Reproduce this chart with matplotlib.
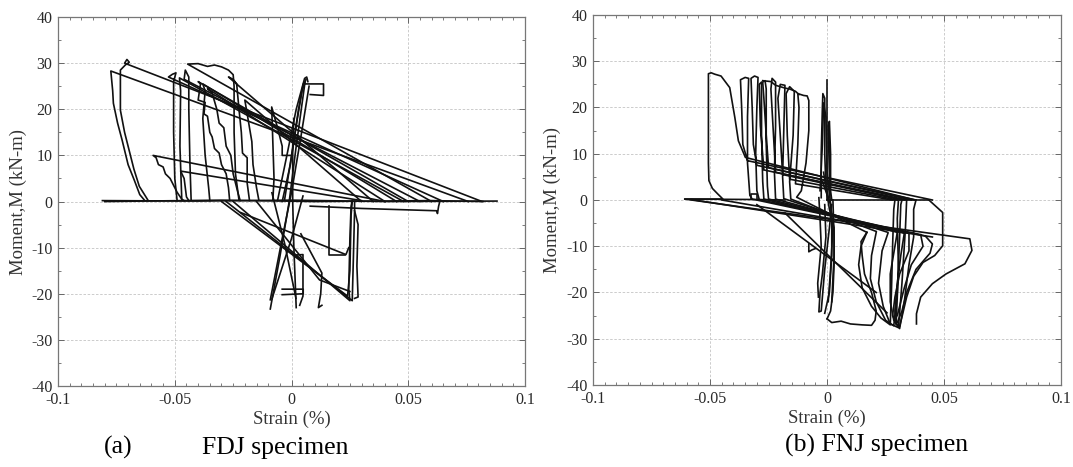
import matplotlib
matplotlib.use("Agg")
import matplotlib.pyplot as plt
from matplotlib.ticker import MultipleLocator

plt.rcParams['font.family'] = ['Liberation Serif', 'DejaVu Serif']
plt.rcParams['axes.unicode_minus'] = False

# ---- FDJ specimen: strain (%) vs moment (kN-m), one list of points per cycle ----
fdj_baseline = [(-0.081, 0.2), (-0.040, 0.1), (0.000, 0.3), (0.040, 0.0), (0.088, 0.1)]
fdj_baseline2 = [(-0.080, 0.0), (-0.030, 0.3), (0.010, 0.0), (0.060, 0.2), (0.082, 0.0)]
fdj_cycle1 = [(0.0757, 0.0), (-0.0774, 28.3), (-0.0766, 24.0), (-0.0763, 21.3), (-0.0745, 17.0),
              (-0.0726, 13.4), (-0.0700, 8.0), (-0.0674, 4.7), (-0.0650, 1.5), (-0.0630, 0.3)]
fdj_cycle2 = [(0.0816, 0.0), (-0.0715, 30.0), (-0.0705, 30.8), (-0.0695, 30.2), (-0.0712, 29.6),
              (-0.0733, 28.5), (-0.0733, 19.8), (-0.0715, 15.0), (-0.0696, 11.2), (-0.0675, 7.0),
              (-0.0652, 3.3), (-0.0615, 0.3)]
fdj_cycle3 = [(0.0650, 0.0), (-0.0527, 27.0), (-0.0510, 27.6), (-0.0495, 27.9), (-0.0505, 26.0),
              (-0.0505, 15.0), (-0.0500, 5.0), (-0.0490, 0.2)]
fdj_cycle4 = [(0.0600, 0.0), (-0.0445, 29.8), (-0.0400, 29.9), (-0.0360, 29.3), (-0.0330, 29.6),
              (-0.0300, 29.2), (-0.0270, 28.5), (-0.0250, 27.5), (-0.0246, 25.0), (-0.0246, 15.0),
              (-0.0240, 6.0), (-0.0225, 0.3)]
fdj_cycle5 = [(0.0550, 0.0), (-0.0460, 26.5), (-0.0455, 28.5), (-0.0440, 27.0), (-0.0440, 20.0),
              (-0.0435, 8.0), (-0.0430, 0.3)]
fdj_cycle6 = [(0.0500, 0.0), (-0.0400, 26.0), (-0.0390, 25.5), (-0.0400, 22.0), (-0.0370, 21.5),
              (-0.0375, 19.0), (-0.0360, 18.5), (-0.0350, 15.0), (-0.0340, 14.0), (-0.0330, 11.5),
              (-0.0310, 10.5), (-0.0300, 8.0), (-0.0280, 6.0), (-0.0270, 3.0), (-0.0265, 0.2)]
fdj_cycle7 = [(0.0450, 0.0), (-0.0380, 25.5), (-0.0370, 24.0), (-0.0380, 18.0), (-0.0370, 10.0),
              (-0.0355, 3.0), (-0.0350, 0.2)]
fdj_cycle8 = [(0.0400, 0.0), (-0.0360, 24.5), (-0.0340, 23.5), (-0.0320, 20.0), (-0.0310, 17.0),
              (-0.0290, 16.0), (-0.0280, 12.0), (-0.0260, 10.0), (-0.0250, 6.0), (-0.0230, 2.0),
              (-0.0220, 0.2)]
fdj_cycle9 = [(0.0350, 0.0), (-0.0270, 27.0), (-0.0250, 26.5), (-0.0235, 25.5), (-0.0225, 20.0),
              (-0.0215, 15.0), (-0.0210, 10.5), (-0.0190, 9.5), (-0.0190, 4.0), (-0.0180, 0.2)]
fdj_cycle10 = [(0.0300, 0.0), (-0.0200, 22.0), (-0.0170, 13.0), (-0.0165, 8.0), (-0.0150, 3.0),
               (-0.0140, 0.3)]
fdj_cycle11 = [(0.0400, 0.0), (-0.0593, 10.0), (-0.0580, 9.5), (-0.0570, 8.0), (-0.0550, 7.5),
               (-0.0540, 6.0), (-0.0520, 5.0), (-0.0505, 3.5), (-0.0490, 2.0), (-0.0470, 0.5),
               (-0.0460, 0.2)]
fdj_cycle12 = [(0.0300, 0.2), (-0.0475, 6.6), (-0.0460, 5.0), (-0.0450, 1.0), (-0.0440, 0.2)]
fdj_cycle13 = [(-0.0080, 0.3), (-0.0075, 5.0), (-0.0085, 20.5), (-0.0060, 16.0), (-0.0040, 12.0),
               (-0.0040, 10.0), (0.0000, 10.0)]
fdj_cycle14 = [(0.0480, 0.0), (-0.0480, 26.8), (-0.0475, 24.0), (-0.0478, 12.0), (-0.0470, 0.3)]
fdj_up1 = [(-0.0060, 0.2), (-0.0020, 10.0), (0.0020, 20.0), (0.0056, 26.7), (0.0065, 27.0),
           (0.0070, 26.0)]
fdj_up2 = [(-0.0030, 0.3), (0.0000, 10.0), (0.0030, 20.0), (0.0050, 25.5), (0.0137, 25.5),
           (0.0137, 23.0), (0.0080, 23.2)]
fdj_up3 = [(-0.0091, -21.3), (-0.0040, -8.0), (0.0000, 2.0), (0.0040, 14.0), (0.0075, 25.0)]
fdj_up4 = [(-0.0091, -23.3), (-0.0050, -12.0), (-0.0010, 0.0), (0.0020, 12.0), (0.0058, 26.0)]
fdj_up5 = [(0.0020, -23.0), (0.0010, -10.0), (0.0005, 0.0), (0.0005, 12.0), (0.0010, 18.0)]
fdj_up6 = [(-0.0040, 0.0), (-0.0005, 8.0), (0.0025, 18.0), (0.0045, 24.0), (0.0062, 26.5)]
fdj_down1 = [(0.0049, 1.2), (0.0000, -8.0), (-0.0084, -21.1)]
fdj_down2 = [(-0.0084, 1.9), (-0.0030, -9.0), (0.0019, -21.0)]
fdj_down3 = [(0.0016, -11.6), (0.0049, -11.5), (0.0049, -20.5), (0.0035, -22.5)]
fdj_box = [(-0.0040, -19.0), (0.0050, -19.0), (0.0050, -20.0), (-0.0040, -20.2)]
fdj_low1 = [(-0.0250, 0.0), (0.0250, -21.5), (0.0245, -19.0), (0.0250, -8.0), (0.0255, -1.0),
            (0.0260, 0.2)]
fdj_low2 = [(-0.0300, 0.0), (0.0240, -20.5), (0.0250, -15.0), (0.0255, -3.0), (0.0260, 0.0)]
fdj_low3 = [(-0.0280, 0.0), (0.0260, -21.5), (0.0265, -12.0), (0.0270, -2.0), (0.0270, 0.0)]
fdj_low4 = [(-0.0217, -2.4), (0.0233, -11.5), (0.0245, -10.0)]
fdj_low5 = [(0.0270, -2.0), (0.0285, -5.0), (0.0280, -14.0), (0.0285, -20.7), (0.0270, -21.0)]
fdj_low6 = [(0.0040, -7.0), (0.0130, -15.5), (0.0125, -20.0), (0.0115, -23.0), (0.0130, -22.5)]
fdj_low7 = [(0.0160, -1.0), (0.0160, -11.5), (0.0230, -11.5)]
fdj_low8 = [(0.0080, -1.0), (0.0300, -1.5), (0.0622, -2.0), (0.0625, -2.6), (0.0630, -1.0),
            (0.0635, 0.0)]
fdj_low9 = [(-0.0150, 0.0), (0.0120, -17.0), (0.0250, -19.5)]

# ---- FNJ specimen ----
fnj_base = [(-0.0608, 0.2), (-0.0300, 0.1), (-0.0180, 0.0)]
fnj_top0 = [(0.0000, 0.0), (0.0435, 0.0)]
fnj_loop0 = [(0.0376, 0.0), (-0.0349, 9.2), (-0.0379, 12.8), (-0.0394, 17.8), (-0.0416, 24.3),
             (-0.0453, 26.8), (-0.0480, 27.2), (-0.0495, 27.5), (-0.0507, 27.3), (-0.0507, 20.0),
             (-0.0507, 8.0), (-0.0505, 4.2), (-0.0490, 2.5), (-0.0467, 1.3), (-0.0445, 0.2),
             (-0.0608, 0.2), (0.0610, -8.4), (0.0619, -10.9), (0.0589, -13.8), (0.0508, -16.0),
             (0.0450, -18.1), (0.0400, -21.0), (0.0382, -24.6), (0.0382, -26.8)]
fnj_loop1 = [(0.0450, 0.0), (-0.0340, 8.5), (-0.0360, 12.0), (-0.0365, 20.0), (-0.0370, 26.0),
             (-0.0350, 26.5), (-0.0335, 26.3), (-0.0340, 18.0), (-0.0340, 8.0), (-0.0330, 1.0),
             (-0.0320, 0.2), (0.0420, -7.8)]
fnj_loop2 = [(0.0380, 0.0), (-0.0300, 7.5), (-0.0315, 12.0), (-0.0320, 20.0), (-0.0325, 26.3),
             (-0.0310, 26.8), (-0.0295, 26.5), (-0.0300, 20.0), (-0.0305, 10.0), (-0.0300, 2.0),
             (-0.0290, 0.1), (0.0400, -7.5)]
fnj_loop3 = [(0.0360, 0.0), (-0.0250, 7.0), (-0.0260, 14.0), (-0.0270, 22.0), (-0.0275, 25.5),
             (-0.0265, 25.8), (-0.0260, 24.0), (-0.0260, 12.0), (-0.0255, 3.0), (-0.0250, 0.2),
             (0.0350, -7.2)]
fnj_loop4 = [(0.0340, 0.0), (-0.0220, 6.0), (-0.0230, 15.0), (-0.0240, 24.0), (-0.0235, 26.3),
             (-0.0220, 25.5), (-0.0220, 16.0), (-0.0225, 6.0), (-0.0220, 0.2), (0.0300, -7.0)]
fnj_loop5 = [(0.0320, 0.0), (-0.0190, 5.5), (-0.0200, 14.0), (-0.0210, 22.0), (-0.0200, 25.0),
             (-0.0180, 24.8), (-0.0185, 15.0), (-0.0190, 5.0), (-0.0185, 0.3), (0.0260, -7.0)]
fnj_loop6 = [(0.0300, 0.0), (-0.0160, 4.5), (-0.0170, 14.0), (-0.0175, 23.0), (-0.0160, 24.5),
             (-0.0140, 23.5), (-0.0145, 14.0), (-0.0160, 4.0), (-0.0155, 0.2), (0.0210, -6.8)]
fnj_loop7 = [(0.0280, 0.0), (-0.0135, 3.5), (-0.0125, 12.0), (-0.0120, 20.0), (-0.0125, 23.0),
             (-0.0100, 22.6), (-0.0085, 22.5), (-0.0078, 21.5), (-0.0078, 15.0), (-0.0090, 8.0),
             (-0.0110, 2.0), (-0.0130, 0.6), (0.0170, -7.0)]
fnj_loop8 = [(0.0330, 0.0), (-0.0270, 6.5), (-0.0285, 16.0), (-0.0290, 25.0), (-0.0280, 25.5),
             (-0.0280, 14.0), (-0.0275, 4.0), (-0.0270, 0.2), (0.0330, -7.2)]
fnj_top = [(-0.0275, 25.8), (-0.0240, 25.6), (-0.0220, 24.8), (-0.0200, 24.5), (-0.0180, 24.2),
           (-0.0160, 24.0), (-0.0135, 23.5), (-0.0120, 22.8)]
fnj_right1 = [(0.0170, -7.0), (0.0145, -10.0), (0.0135, -14.0), (0.0150, -19.0), (0.0190, -23.0),
              (0.0230, -25.5), (0.0270, -27.0), (0.0275, -20.0), (0.0280, -10.0), (0.0285, -2.0),
              (0.0290, 0.0)]
fnj_right2 = [(0.0210, -7.0), (0.0190, -12.0), (0.0185, -17.0), (0.0210, -22.0), (0.0250, -26.0),
              (0.0285, -27.2), (0.0300, -20.0), (0.0310, -8.0), (0.0315, -1.0), (0.0320, 0.0)]
fnj_right3 = [(0.0260, -7.2), (0.0235, -11.0), (0.0220, -18.0), (0.0240, -23.0), (0.0270, -26.8),
              (0.0305, -27.6), (0.0320, -18.0), (0.0335, -6.0), (0.0340, 0.0)]
fnj_right4 = [(0.0300, -7.0), (0.0290, -10.0), (0.0270, -16.0), (0.0270, -22.0), (0.0285, -26.0),
              (0.0310, -27.8), (0.0330, -22.0), (0.0350, -14.0), (0.0370, -8.0), (0.0370, -2.0),
              (0.0380, 0.0)]
fnj_right5 = [(0.0350, -7.2), (0.0350, -11.0), (0.0310, -16.0), (0.0290, -21.0), (0.0280, -25.0),
              (0.0300, -27.0)]
fnj_right6 = [(0.0420, -7.8), (0.0450, -9.5), (0.0440, -11.5), (0.0380, -15.0), (0.0340, -20.0),
              (0.0320, -24.0), (0.0300, -26.5)]
fnj_right7 = [(0.0400, -7.5), (0.0410, -10.0), (0.0360, -14.0), (0.0330, -19.0), (0.0300, -25.0)]
fnj_right8 = [(0.0330, -7.2), (0.0315, -12.0), (0.0300, -18.0), (0.0290, -24.0), (0.0295, -27.0),
              (0.0305, -15.0), (0.0300, -4.0), (0.0305, 0.0)]
fnj_outer = [(0.0435, 0.0), (0.0494, -2.7), (0.0494, -9.9), (0.0460, -12.0), (0.0410, -13.5),
             (0.0370, -16.5), (0.0340, -21.0), (0.0320, -25.3), (0.0310, -27.3)]
fnj_bottom = [(0.0000, -25.7), (0.0020, -26.5), (0.0060, -26.2), (0.0100, -26.8), (0.0150, -27.0),
              (0.0190, -27.1), (0.0205, -26.0), (0.0210, -24.0), (0.0190, -20.0), (0.0160, -16.0),
              (0.0150, -12.0), (0.0145, -9.0), (0.0170, -7.0)]
fnj_diag1 = [(-0.0180, -2.8), (0.0256, -24.4)]
fnj_diag2 = [(-0.0300, -1.0), (0.0210, -20.0)]
fnj_diag3 = [(-0.0580, 0.1), (0.0450, -8.0)]
fnj_diag4 = [(-0.0450, 0.0), (0.0300, -6.5)]
fnj_mid1 = [(-0.0025, 0.5), (-0.0025, 10.0), (-0.0020, 20.0), (-0.0018, 23.0), (-0.0010, 22.0),
            (-0.0010, 10.0), (-0.0005, 3.0), (0.0005, 0.5)]
fnj_mid2 = [(0.0000, 0.0), (0.0000, 26.0)]
fnj_mid3 = [(0.0010, 0.5), (0.0010, 5.0), (0.0005, 16.0), (0.0010, 17.0), (0.0015, 10.0),
            (0.0015, 2.0), (0.0020, 0.0)]
fnj_mid4 = [(0.0025, 0.0), (0.0030, -8.0), (0.0030, -14.0), (0.0025, -20.0), (0.0015, -24.0),
            (0.0000, -25.7)]
fnj_mid5 = [(-0.0010, -1.0), (-0.0005, -8.0), (-0.0020, -16.0), (-0.0030, -20.0), (-0.0035, -24.2),
            (-0.0025, -24.0), (-0.0010, -15.0), (0.0010, -6.0), (0.0020, -1.0)]
fnj_mid6 = [(-0.0035, 0.5), (-0.0030, -4.0), (-0.0025, -10.0), (-0.0040, -18.0), (-0.0037, -21.0)]
fnj_mid7 = [(-0.0015, 6.0), (0.0010, -2.0), (0.0030, -6.0), (0.0030, -12.0), (0.0020, -22.0)]
fnj_mid8 = [(-0.0030, 2.0), (-0.0020, 12.0), (-0.0015, 21.0), (-0.0005, 18.0), (0.0000, 6.0),
            (0.0020, -3.0), (0.0020, -12.0), (0.0010, -20.0), (-0.0010, -24.5)]
fnj_mid9 = [(-0.0020, 4.0), (0.0015, -1.0), (0.0025, -6.0), (0.0015, -15.0), (0.0005, -22.0)]
fnj_mark = [(-0.0078, -9.5), (-0.0078, -11.2), (-0.0065, -10.8), (-0.0050, -10.5)]
fnj_mark2 = [(-0.0325, 0.3), (-0.0325, 1.4), (-0.0300, 1.4), (-0.0300, 0.3)]

fdj_paths = [fdj_baseline, fdj_baseline2, fdj_cycle1, fdj_cycle2, fdj_cycle3, fdj_cycle4,
             fdj_cycle5, fdj_cycle6, fdj_cycle7, fdj_cycle8, fdj_cycle9, fdj_cycle10,
             fdj_cycle11, fdj_cycle12, fdj_cycle13, fdj_cycle14, fdj_up1, fdj_up2, fdj_up3,
             fdj_up4, fdj_up5, fdj_up6, fdj_down1, fdj_down2, fdj_down3, fdj_box, fdj_low1,
             fdj_low2, fdj_low3, fdj_low4, fdj_low5, fdj_low6, fdj_low7, fdj_low8, fdj_low9]
fnj_paths = [fnj_base, fnj_top0, fnj_loop0, fnj_loop1, fnj_loop2, fnj_loop3, fnj_loop4,
             fnj_loop5, fnj_loop6, fnj_loop7, fnj_loop8, fnj_top, fnj_right1, fnj_right2,
             fnj_right3, fnj_right4, fnj_right5, fnj_right6, fnj_right7, fnj_right8, fnj_outer,
             fnj_bottom, fnj_diag1, fnj_diag2, fnj_diag3, fnj_diag4, fnj_mid1, fnj_mid2,
             fnj_mid3, fnj_mid4, fnj_mid5, fnj_mid6, fnj_mid7, fnj_mid8, fnj_mid9, fnj_mark,
             fnj_mark2]

x_ticks = [-0.1, -0.05, 0, 0.05, 0.1]
x_tick_labels = ['-0.1', '-0.05', '0', '0.05', '0.1']
y_ticks = [-40, -30, -20, -10, 0, 10, 20, 30, 40]


def setup_axes(ax):
    ax.set_xlim(-0.1, 0.1)
    ax.set_ylim(-40, 40)
    ax.set_xticks(x_ticks)
    ax.set_xticklabels(x_tick_labels)
    ax.set_yticks(y_ticks)
    ax.xaxis.set_minor_locator(MultipleLocator(0.005))
    ax.yaxis.set_minor_locator(MultipleLocator(5))
    ax.tick_params(which='both', direction='in', top=True, right=True, color='#666666',
                   labelsize=11.5, labelcolor='#2a2a2a')
    ax.tick_params(which='major', length=4, width=0.7, pad=4)
    ax.tick_params(which='minor', length=2.5, width=0.6)
    ax.grid(True, which='major', color='#c4c4c4', linestyle=(0, (3, 2)), linewidth=0.6)
    ax.set_axisbelow(True)
    for sp in ax.spines.values():
        sp.set_color('#777777')
        sp.set_linewidth(0.9)
    ax.set_xlabel('Strain (%)', fontsize=13.5, color='#333333')
    ax.set_ylabel('Moment,M (kN-m)', fontsize=13.5, color='#333333')
    ax.xaxis.label.set_verticalalignment('center')
    ax.yaxis.label.set_verticalalignment('center')


def draw_paths(ax, paths):
    for path in paths:
        xs = [p[0] for p in path]
        ys = [p[1] for p in path]
        ax.plot(xs, ys, color='#111111', linewidth=1.2, solid_joinstyle='round')


fig = plt.figure(figsize=(10.73, 4.67), dpi=100)
ax1 = fig.add_axes([0.0541, 0.1734, 0.4352, 0.7901])
ax2 = fig.add_axes([0.5527, 0.1756, 0.4362, 0.7923])

for ax, paths in ((ax1, fdj_paths), (ax2, fnj_paths)):
    setup_axes(ax)
    draw_paths(ax, paths)

ax1.xaxis.set_label_coords(0.5, -0.09)
ax1.yaxis.set_label_coords(-0.084, 0.5)
ax2.xaxis.set_label_coords(0.5, -0.09)
ax2.yaxis.set_label_coords(-0.088, 0.5)

fig.text(0.110, 0.041, '(a)', fontsize=18.5, ha='center', va='center')
fig.text(0.188, 0.041, 'FDJ specimen', fontsize=18.5, ha='left', va='center')
fig.text(0.7316, 0.047, '(b) FNJ specimen', fontsize=18.5, ha='left', va='center')

fig.savefig('out.png', dpi=100)
